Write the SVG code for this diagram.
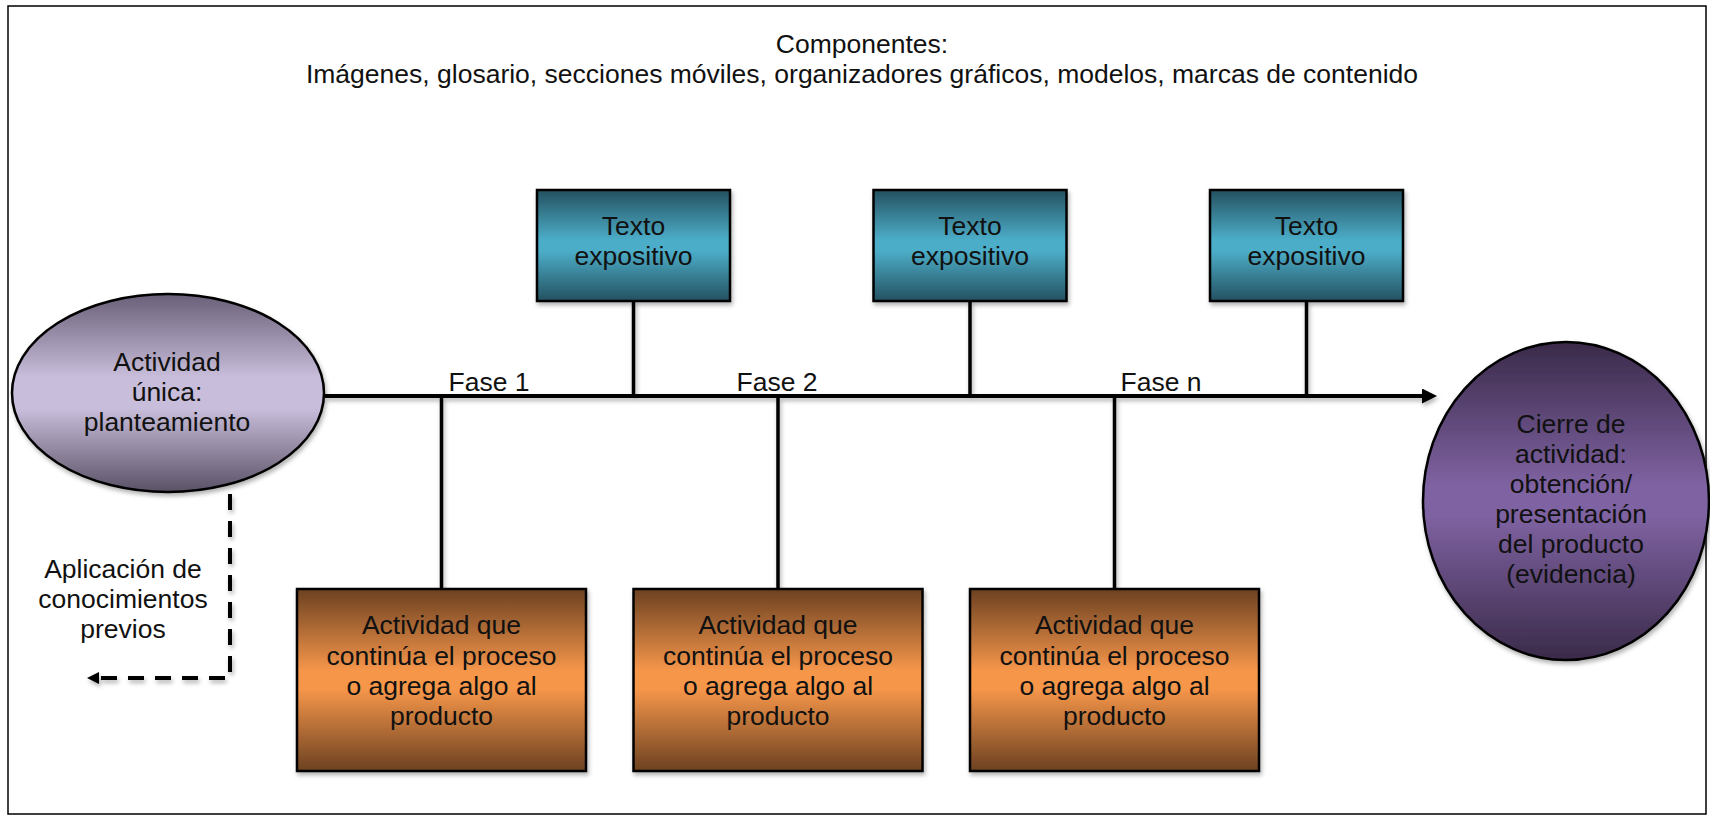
<svg xmlns="http://www.w3.org/2000/svg" width="1710" height="818" viewBox="0 0 1710 818">
  <style>
    text { font-family: "Liberation Sans", Arial, sans-serif; font-size: 26.5px; fill: #111; text-anchor: middle; }
    .frame { fill: #fff; stroke: #000; stroke-width: 1.5; }
    .shape { stroke: #000; stroke-width: 2.5; filter: url(#shadow); }
    .main { fill: none; stroke: #000; stroke-width: 4; }
    .stem { fill: none; stroke: #000; stroke-width: 3.5; }
    .dash { fill: none; stroke: #000; stroke-width: 4; stroke-dasharray: 16 11; }
  </style>
  <defs>
    <filter id="shadow" x="-10%" y="-10%" width="130%" height="140%">
      <feDropShadow dx="1.5" dy="3" stdDeviation="2" flood-color="#000" flood-opacity="0.3"/>
    </filter>
    <filter id="lineShadow" filterUnits="userSpaceOnUse" x="0" y="0" width="1710" height="818">
      <feDropShadow dx="1.5" dy="3" stdDeviation="2" flood-color="#000" flood-opacity="0.3"/>
    </filter>
    <linearGradient id="gLav" x1="0" y1="0" x2="0" y2="1">
      <stop offset="0" stop-color="#6a5f78"/>
      <stop offset="0.42" stop-color="#c8bdda"/>
      <stop offset="0.58" stop-color="#c8bdda"/>
      <stop offset="1" stop-color="#5a5166"/>
    </linearGradient>
    <linearGradient id="gPur" x1="0" y1="0" x2="0" y2="1">
      <stop offset="0" stop-color="#3a2a49"/>
      <stop offset="0.45" stop-color="#7e62a1"/>
      <stop offset="0.55" stop-color="#7e62a1"/>
      <stop offset="1" stop-color="#3a2a49"/>
    </linearGradient>
    <linearGradient id="gTeal" x1="0" y1="0" x2="0" y2="1">
      <stop offset="0" stop-color="#245160"/>
      <stop offset="0.45" stop-color="#4cadc8"/>
      <stop offset="0.55" stop-color="#4cadc8"/>
      <stop offset="1" stop-color="#245160"/>
    </linearGradient>
    <linearGradient id="gOrange" x1="0" y1="0" x2="0" y2="1">
      <stop offset="0" stop-color="#6c4121"/>
      <stop offset="0.45" stop-color="#f6964a"/>
      <stop offset="0.55" stop-color="#f6964a"/>
      <stop offset="1" stop-color="#6c4121"/>
    </linearGradient>
    <marker id="arrowMain" viewBox="0 0 15 15" markerWidth="15" markerHeight="15" markerUnits="userSpaceOnUse" refX="3" refY="7.5" orient="auto">
      <path d="M0,0 L15,7.5 L0,15 z" fill="#000"/>
    </marker>
    <marker id="arrowSmall" viewBox="0 0 12 12" markerWidth="12" markerHeight="12" markerUnits="userSpaceOnUse" refX="3" refY="6" orient="auto">
      <path d="M0,0 L12,6 L0,12 z" fill="#000"/>
    </marker>
  </defs>

  <!-- page frame -->
  <rect class="frame" x="8" y="6" width="1698" height="808"/>

  <!-- heading -->
  <g id="componentes">
    <text x="862" y="53">Componentes:</text>
    <text x="862" y="83">Imágenes, glosario, secciones móviles, organizadores gráficos, modelos, marcas de contenido</text>
  </g>

  <!-- connectors -->
  <g id="connectors" filter="url(#lineShadow)">
    <line class="main" x1="325" y1="396" x2="1425" y2="396" marker-end="url(#arrowMain)"/>
    <line class="stem" x1="633.5" y1="301" x2="633.5" y2="396"/>
    <line class="stem" x1="970" y1="301" x2="970" y2="396"/>
    <line class="stem" x1="1306.5" y1="301" x2="1306.5" y2="396"/>
    <line class="stem" x1="441.5" y1="396" x2="441.5" y2="589"/>
    <line class="stem" x1="778" y1="396" x2="778" y2="589"/>
    <line class="stem" x1="1114.5" y1="396" x2="1114.5" y2="589"/>
    <path class="dash" d="M230,494 V678 H96" marker-end="url(#arrowSmall)"/>
  </g>

  <!-- phase labels -->
  <g id="fases">
    <text x="489" y="391">Fase 1</text>
    <text x="777" y="391">Fase 2</text>
    <text x="1161" y="391">Fase n</text>
  </g>

  <!-- start node -->
  <g id="inicio">
    <ellipse class="shape" cx="168" cy="393" rx="156" ry="99" fill="url(#gLav)"/>
    <text x="167" y="371">Actividad</text>
    <text x="167" y="401">única:</text>
    <text x="167" y="431">planteamiento</text>
  </g>

  <g id="conocimientos-previos">
    <text x="123" y="578">Aplicación de</text>
    <text x="123" y="608">conocimientos</text>
    <text x="123" y="638">previos</text>
  </g>

  <!-- expository text boxes -->
  <g id="texto-1">
    <rect class="shape" x="537" y="190" width="193" height="111" fill="url(#gTeal)"/>
    <text x="633.5" y="235">Texto</text>
    <text x="633.5" y="265">expositivo</text>
  </g>
  <g id="texto-2">
    <rect class="shape" x="873.5" y="190" width="193" height="111" fill="url(#gTeal)"/>
    <text x="970" y="235">Texto</text>
    <text x="970" y="265">expositivo</text>
  </g>
  <g id="texto-3">
    <rect class="shape" x="1210" y="190" width="193" height="111" fill="url(#gTeal)"/>
    <text x="1306.5" y="235">Texto</text>
    <text x="1306.5" y="265">expositivo</text>
  </g>

  <!-- activity boxes -->
  <g id="actividad-1">
    <rect class="shape" x="297" y="589" width="289" height="182" fill="url(#gOrange)"/>
    <text x="441.5" y="634">Actividad que</text>
    <text x="441.5" y="665">continúa el proceso</text>
    <text x="441.5" y="695">o agrega algo al</text>
    <text x="441.5" y="725">producto</text>
  </g>
  <g id="actividad-2">
    <rect class="shape" x="633.5" y="589" width="289" height="182" fill="url(#gOrange)"/>
    <text x="778" y="634">Actividad que</text>
    <text x="778" y="665">continúa el proceso</text>
    <text x="778" y="695">o agrega algo al</text>
    <text x="778" y="725">producto</text>
  </g>
  <g id="actividad-3">
    <rect class="shape" x="970" y="589" width="289" height="182" fill="url(#gOrange)"/>
    <text x="1114.5" y="634">Actividad que</text>
    <text x="1114.5" y="665">continúa el proceso</text>
    <text x="1114.5" y="695">o agrega algo al</text>
    <text x="1114.5" y="725">producto</text>
  </g>

  <!-- closing node -->
  <g id="cierre">
    <ellipse class="shape" cx="1566" cy="501" rx="143" ry="159" fill="url(#gPur)"/>
    <text x="1571" y="433">Cierre de</text>
    <text x="1571" y="463">actividad:</text>
    <text x="1571" y="493">obtención/</text>
    <text x="1571" y="523">presentación</text>
    <text x="1571" y="553">del producto</text>
    <text x="1571" y="583">(evidencia)</text>
  </g>
</svg>
